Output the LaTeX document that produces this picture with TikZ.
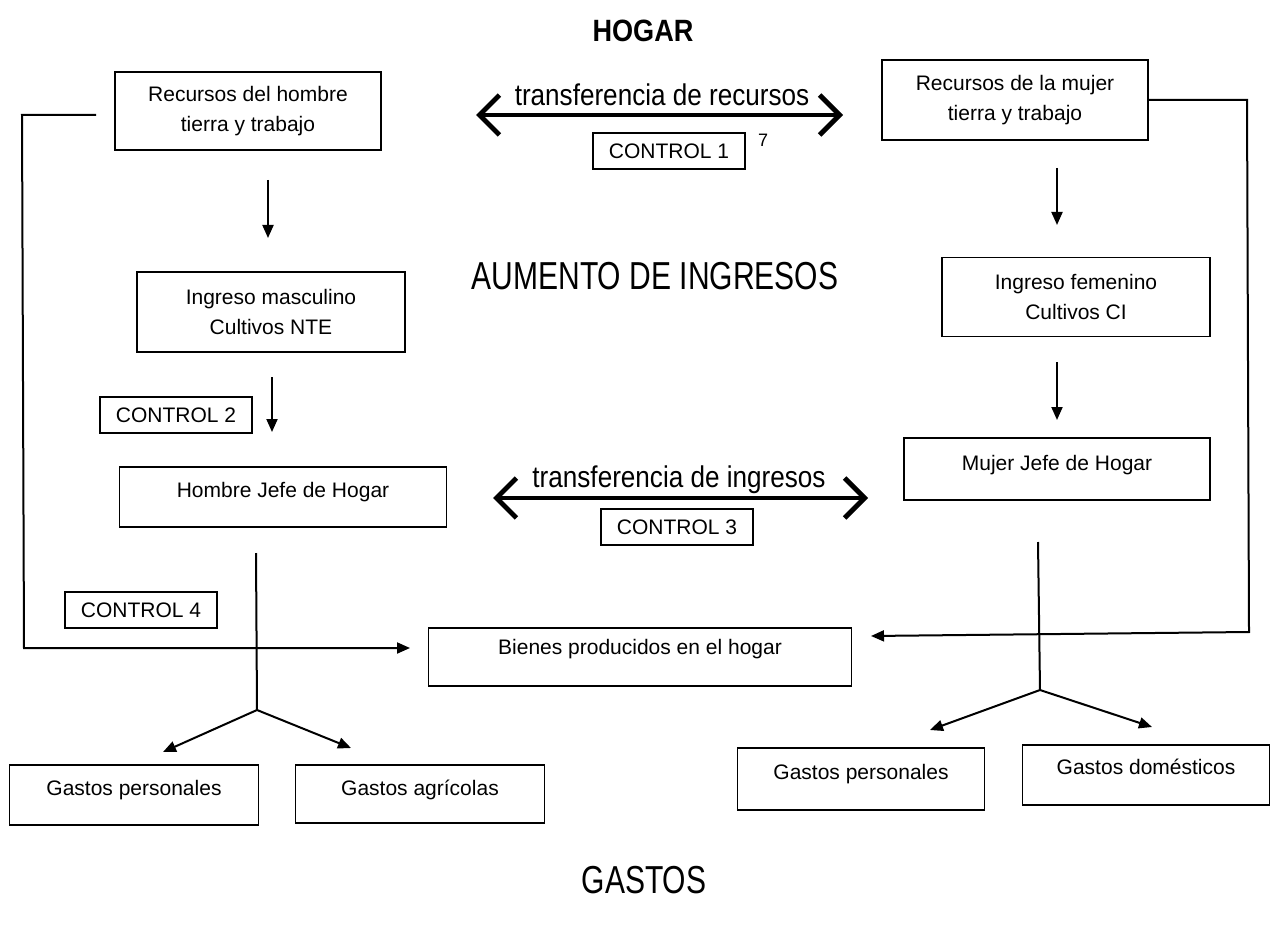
\documentclass[tikz,border=0pt]{standalone}
\usepackage{fontspec}
\setmainfont{Liberation Sans}
\newfontfamily\titulofont{Liberation Sans}[FakeStretch=0.88]
\newfontfamily\medfont{Liberation Sans}[FakeStretch=0.87]
\newfontfamily\grandefont{Liberation Sans}[FakeStretch=0.77]
\usetikzlibrary{arrows.meta}

\tikzset{
  caja/.style={draw, line width=0.9pt, inner sep=0pt, align=center, font=\fontsize{10.5}{15}\selectfont},
  ctrl/.style={caja, minimum width=76pt, minimum height=18pt},
  sube/.style={text height=7.5pt, text depth=#1},
  linea/.style={line width=1pt},
  flecha/.style={linea, -{Triangle[length=6.5pt,width=5.5pt]}},
  trans/.style={line width=2.4pt, {Straight Barb[length=10pt,width=20pt]}-{Straight Barb[length=10pt,width=20pt]}},
}

\begin{document}
\begin{tikzpicture}[x=0.5pt, y=-0.5pt]
\useasboundingbox (0,0) rectangle (1273,936);

\node[font={\titulofont\bfseries\fontsize{15.4}{18}\selectfont}] (hogar) at (643,31) {HOGAR};
\node[font={\grandefont\fontsize{19.5}{22}\selectfont}] (aumento) at (655,276) {AUMENTO DE INGRESOS};
\node[font={\grandefont\fontsize{19.5}{22}\selectfont}] (gastos) at (644,880) {GASTOS};

\node[caja, minimum width=133pt, minimum height=39pt] (recH) at (248,111) {Recursos del hombre\\tierra y trabajo};
\node[caja, minimum width=133pt, minimum height=40pt] (recM) at (1015,100) {Recursos de la mujer\\tierra y trabajo};
\node[caja, minimum width=134pt, minimum height=40pt] (ingH) at (271,312) {Ingreso masculino\\Cultivos NTE};
\node[caja, minimum width=134pt, minimum height=39.5pt] (ingM) at (1076,297) {Ingreso femenino\\Cultivos CI};
\node[caja, sube=7pt, minimum width=163.5pt, minimum height=30pt] (jefeH) at (283,497) {Hombre Jefe de Hogar};
\node[caja, sube=6pt, minimum width=153pt, minimum height=31pt] (jefeM) at (1057,469) {Mujer Jefe de Hogar};
\node[caja, sube=10pt, minimum width=211.5pt, minimum height=29pt] (bienes) at (640,657) {Bienes producidos en el hogar};
\node[caja, sube=7pt, minimum width=124.5pt, minimum height=30pt] (gpH) at (134,795) {Gastos personales};
\node[caja, sube=6pt, minimum width=124.5pt, minimum height=29pt] (gaH) at (420,794) {Gastos agrícolas};
\node[caja, sube=7pt, minimum width=123.5pt, minimum height=31pt] (gpM) at (861,779) {Gastos personales};
\node[caja, sube=8pt, minimum width=123.5pt, minimum height=30pt] (gdM) at (1146,775) {Gastos domésticos};

\node[ctrl] (ctrlA) at (669,151) {CONTROL 1};
\node[font=\fontsize{9}{10}\selectfont] (nota) at (763,140) {7};
\node[ctrl] (ctrlB) at (176,415) {CONTROL 2};
\node[ctrl] (ctrlC) at (677,527) {CONTROL 3};
\node[ctrl] (ctrlD) at (141,610) {CONTROL 4};

\coordinate (trA) at (476,115);
\coordinate (trB) at (843,115);
\draw[trans] (trA) -- (trB);
\node[font={\medfont\fontsize{15}{18}\selectfont}, anchor=base] (txtR) at (662,106) {transferencia de recursos};
\coordinate (tiA) at (493,498);
\coordinate (tiB) at (868,498);
\draw[trans] (tiA) -- (tiB);
\node[font={\medfont\fontsize{15}{18}\selectfont}, anchor=base] (txtI) at (679,487) {transferencia de ingresos};

\coordinate (dA1) at (268,180); \coordinate (dA2) at (268,238);
\coordinate (dB1) at (272,377); \coordinate (dB2) at (272,432);
\coordinate (dC1) at (1057,168); \coordinate (dC2) at (1057,225);
\coordinate (dD1) at (1057,362); \coordinate (dD2) at (1057,420);
\draw[flecha] (dA1) -- (dA2);
\draw[flecha] (dB1) -- (dB2);
\draw[flecha] (dC1) -- (dC2);
\draw[flecha] (dD1) -- (dD2);

\coordinate (lzA) at (96,115); \coordinate (lzB) at (22,115);
\coordinate (lzC) at (24,648); \coordinate (lzD) at (410,648);
\draw[flecha] (lzA) -- (lzB) -- (lzC) -- (lzD);
\coordinate (rzA) at (1247,100); \coordinate (rzB) at (1249,632);
\coordinate (rzC) at (871,636);
\draw[flecha] (recM.east) -- (rzA) -- (rzB) -- (rzC);

\coordinate (hjA) at (256,553); \coordinate (hjF) at (257,710);
\coordinate (hjL) at (163,752); \coordinate (hjR) at (351,748);
\draw[linea] (hjA) -- (hjF);
\draw[flecha] (hjF) -- (hjL);
\draw[flecha] (hjF) -- (hjR);
\coordinate (mjA) at (1038,542); \coordinate (mjF) at (1040,690);
\coordinate (mjL) at (930,730); \coordinate (mjR) at (1152,727);
\draw[linea] (mjA) -- (mjF);
\draw[flecha] (mjF) -- (mjL);
\draw[flecha] (mjF) -- (mjR);
\end{tikzpicture}
\end{document}
